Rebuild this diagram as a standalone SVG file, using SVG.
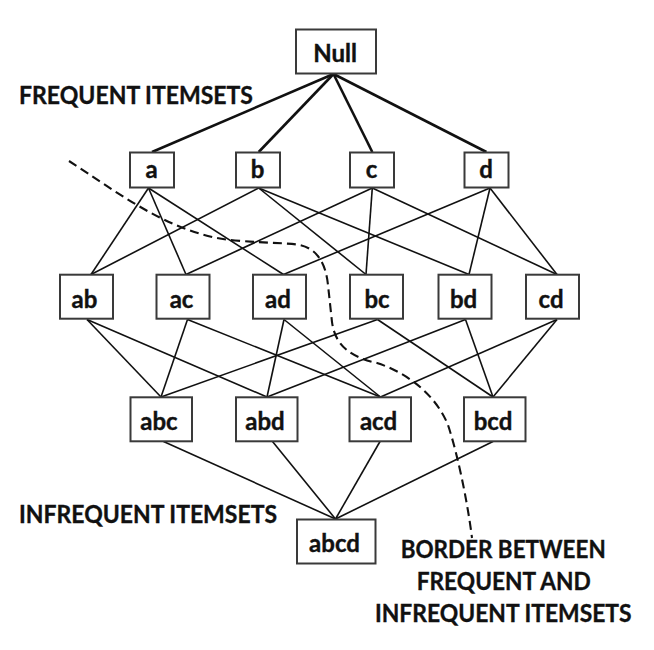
<svg xmlns="http://www.w3.org/2000/svg" width="654" height="650" viewBox="0 0 654 650">
<style>
  .box { fill: #ffffff; stroke: #3a3a3a; stroke-width: 2; }
  .lbl { font-family: Lato, "Open Sans", "Liberation Sans", sans-serif; font-weight: bold; font-size: 24px; fill: #111111; stroke: #111111; stroke-width: 0.4; text-anchor: middle; }
  .hd { font-family: Lato, "Open Sans", "Liberation Sans", sans-serif; font-weight: bold; font-size: 24.5px; fill: #111111; stroke: #111111; stroke-width: 0.35; }
  .e { stroke: #111111; stroke-width: 1.6; fill: none; }
  .et { stroke: #111111; stroke-width: 2.6; fill: none; }
  .border { stroke: #111111; stroke-width: 2.1; fill: none; stroke-dasharray: 9 5; }
</style>
<rect width="654" height="650" fill="#ffffff"/>
<g id="connectors">
  <line class="et" x1="333.5" y1="74" x2="152" y2="152"/>
  <line class="et" x1="333.5" y1="74" x2="258.7" y2="152"/>
  <line class="et" x1="333.5" y1="74" x2="372.3" y2="152"/>
  <line class="et" x1="333.5" y1="74" x2="486.4" y2="152"/>
  <line class="e" x1="148.5" y1="188" x2="91" y2="274.5"/>
  <line class="e" x1="148.5" y1="188" x2="186" y2="274.5"/>
  <line class="e" x1="148.5" y1="188" x2="283.5" y2="274.5"/>
  <line class="e" x1="258.7" y1="188" x2="91" y2="274.5"/>
  <line class="e" x1="258.7" y1="188" x2="366" y2="274.5"/>
  <line class="e" x1="258.7" y1="188" x2="469" y2="274.5"/>
  <line class="e" x1="372.3" y1="188" x2="186" y2="274.5"/>
  <line class="e" x1="372.3" y1="188" x2="366" y2="274.5"/>
  <line class="e" x1="372.3" y1="188" x2="557" y2="274.5"/>
  <line class="e" x1="490" y1="188" x2="283.5" y2="274.5"/>
  <line class="e" x1="490" y1="188" x2="469" y2="274.5"/>
  <line class="e" x1="490" y1="188" x2="557" y2="274.5"/>
  <line class="e" x1="87" y1="319.5" x2="161" y2="397"/>
  <line class="e" x1="87" y1="319.5" x2="267" y2="397"/>
  <line class="e" x1="187.5" y1="319.5" x2="161" y2="397"/>
  <line class="e" x1="187.5" y1="319.5" x2="380.5" y2="397"/>
  <line class="e" x1="284" y1="319.5" x2="267" y2="397"/>
  <line class="e" x1="284" y1="319.5" x2="380.5" y2="397"/>
  <line class="e" x1="377.5" y1="319.5" x2="161" y2="397"/>
  <line class="e" x1="377.5" y1="319.5" x2="493" y2="397"/>
  <line class="e" x1="465.5" y1="319.5" x2="267" y2="397"/>
  <line class="e" x1="465.5" y1="319.5" x2="493" y2="397"/>
  <line class="e" x1="557" y1="319.5" x2="380.5" y2="397"/>
  <line class="e" x1="557" y1="319.5" x2="493" y2="397"/>
  <line class="e" x1="163.5" y1="441.5" x2="335.5" y2="519"/>
  <line class="e" x1="272.5" y1="441.5" x2="335.5" y2="519"/>
  <line class="e" x1="380" y1="441.5" x2="335.5" y2="519"/>
  <line class="e" x1="493" y1="441.5" x2="335.5" y2="519"/>
  <path class="border" d="M69,161 C115,190 170,235 235,240.5 C265,243 290,243 300,245 C318,249 326,265 328,285 L332,322 C335,345 350,357 377,363 C405,372 435,393 448,425 C458,455 468,505 472,538"/>
</g>
<g id="node-null"><rect class="box" x="296" y="29.5" width="80" height="44"/><text class="lbl" x="335" y="61.7">Null</text></g>
<g id="node-a"><rect class="box" x="130" y="152.5" width="44" height="35"/><text class="lbl" x="151.5" y="177.5">a</text></g>
<g id="node-b"><rect class="box" x="236" y="152.5" width="44" height="35"/><text class="lbl" x="257.5" y="177.5">b</text></g>
<g id="node-c"><rect class="box" x="350" y="152.5" width="44" height="35"/><text class="lbl" x="371.5" y="177.5">c</text></g>
<g id="node-d"><rect class="box" x="464.5" y="152.5" width="44" height="35"/><text class="lbl" x="486" y="177.5">d</text></g>
<g id="node-ab"><rect class="box" x="60" y="274.7" width="53" height="44"/><text class="lbl" x="84.5" y="307.7">ab</text></g>
<g id="node-ac"><rect class="box" x="156.5" y="274.7" width="53" height="44"/><text class="lbl" x="181.5" y="307.7">ac</text></g>
<g id="node-ad"><rect class="box" x="253" y="274.7" width="53" height="44"/><text class="lbl" x="278" y="307.7">ad</text></g>
<g id="node-bc"><rect class="box" x="350" y="274.7" width="53" height="44"/><text class="lbl" x="377" y="307.7">bc</text></g>
<g id="node-bd"><rect class="box" x="438.5" y="274.7" width="53" height="44"/><text class="lbl" x="463.5" y="307.7">bd</text></g>
<g id="node-cd"><rect class="box" x="526" y="274.7" width="53" height="44"/><text class="lbl" x="551" y="307.7">cd</text></g>
<g id="node-abc"><rect class="box" x="130.5" y="397.3" width="61.5" height="44"/><text class="lbl" x="159" y="430">abc</text></g>
<g id="node-abd"><rect class="box" x="236" y="397.3" width="61.5" height="44"/><text class="lbl" x="265" y="430">abd</text></g>
<g id="node-acd"><rect class="box" x="349.5" y="397.3" width="61.5" height="44"/><text class="lbl" x="378.5" y="430">acd</text></g>
<g id="node-bcd"><rect class="box" x="464" y="397.3" width="61.5" height="44"/><text class="lbl" x="493" y="430">bcd</text></g>
<g id="node-abcd"><rect class="box" x="297" y="519.5" width="78.5" height="44"/><text class="lbl" x="334.5" y="551.7">abcd</text></g>
<g id="labels">
  <text class="hd" x="19" y="104" textLength="234" lengthAdjust="spacingAndGlyphs">FREQUENT ITEMSETS</text>
  <text class="hd" x="19" y="523" textLength="258" lengthAdjust="spacingAndGlyphs">INFREQUENT ITEMSETS</text>
  <text class="hd" x="400.7" y="558" textLength="205" lengthAdjust="spacingAndGlyphs">BORDER BETWEEN</text>
  <text class="hd" x="416.7" y="590" textLength="174" lengthAdjust="spacingAndGlyphs">FREQUENT AND</text>
  <text class="hd" x="375" y="621.5" textLength="256.5" lengthAdjust="spacingAndGlyphs">INFREQUENT ITEMSETS</text>
</g>
</svg>
